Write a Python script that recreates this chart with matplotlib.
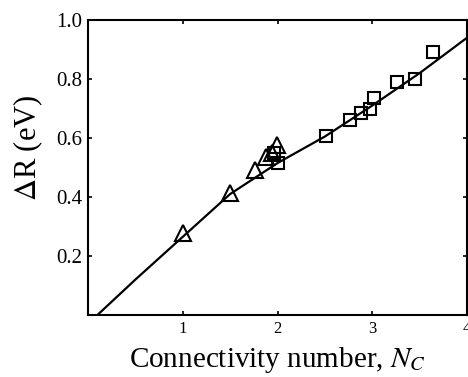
import matplotlib
matplotlib.use("Agg")
import matplotlib.pyplot as plt

# Data
tri_x = [1.0, 1.5, 1.76, 1.88, 1.94, 1.99]
tri_y = [0.278, 0.414, 0.49, 0.535, 0.548, 0.576]
sq_x = [1.96, 2.01, 2.51, 2.76, 2.88, 2.98, 3.02, 3.26, 3.45, 3.64]
sq_y = [0.55, 0.515, 0.607, 0.661, 0.685, 0.698, 0.735, 0.79, 0.80, 0.89]
fit_x = [0.1, 0.5, 1.0, 1.5, 2.0, 2.5, 3.0, 3.5, 4.0]
fit_y = [0.0, 0.12, 0.265, 0.41, 0.515, 0.605, 0.71, 0.82, 0.94]
x_ticks = [1, 2, 3, 4]
y_ticks = [0.2, 0.4, 0.6, 0.8, 1.0]

plt.rcParams['font.family'] = ['Liberation Serif', 'DejaVu Serif']
plt.rcParams['mathtext.fontset'] = 'stix'

fig = plt.figure(figsize=(4.68, 3.77), dpi=100)
ax = fig.add_axes([0.188, 0.1645, 0.81, 0.7825])

ax.plot(fit_x, fit_y, color='black', lw=1.6, zorder=2)
ax.plot(tri_x, tri_y, linestyle='none', marker='^', markersize=11,
        markerfacecolor='none', markeredgecolor='black', markeredgewidth=1.5, zorder=3)
ax.plot(sq_x, sq_y, linestyle='none', marker='s', markersize=9,
        markerfacecolor='none', markeredgecolor='black', markeredgewidth=1.5, zorder=3)

ax.set_xlim(0, 4)
ax.set_ylim(0, 1)
ax.set_xticks(x_ticks)
ax.set_xticklabels([str(t) for t in x_ticks], fontsize=12)
ax.set_yticks(y_ticks)
ax.set_yticklabels([f"{t:.1f}" for t in y_ticks], fontsize=15)
ax.tick_params(direction='in', top=True, right=True, length=3, width=1.2, pad=4)
for s in ax.spines.values():
    s.set_linewidth(1.5)

ax.set_xlabel('Connectivity number, $N_C$', fontsize=21, labelpad=6)
ax.set_ylabel(r'$\Delta$R (eV)', fontsize=22)
ax.yaxis.set_label_coords(-0.114, 0.566)

fig.savefig('out.png', dpi=100)
